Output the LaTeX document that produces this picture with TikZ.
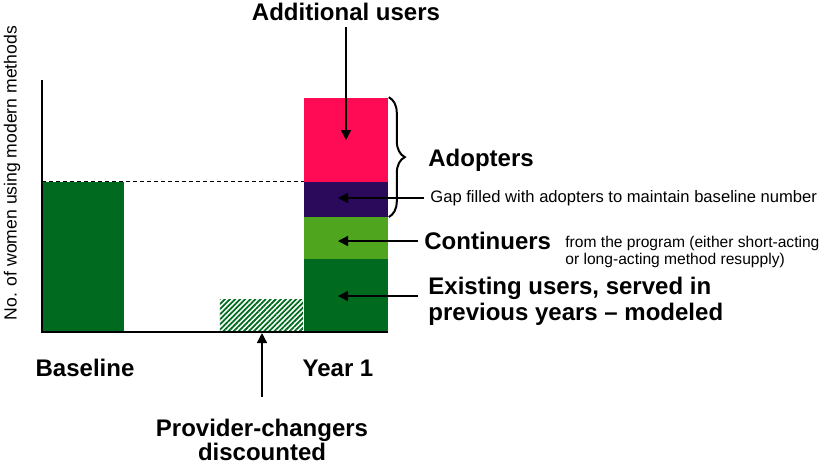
\documentclass[tikz,border=0pt]{standalone}
\usepackage{fontspec}
\setmainfont{Liberation Sans}
\usetikzlibrary{patterns.meta,decorations.pathreplacing,arrows.meta}
\definecolor{dkgreen}{RGB}{0,107,30}
\definecolor{ltgreen}{RGB}{80,165,30}
\definecolor{adopurple}{RGB}{43,10,92}
\definecolor{addpink}{RGB}{255,10,85}

\begin{document}
\begin{tikzpicture}[x=0.5pt,y=-0.5pt]
      \tikzstyle{every node}+=[inner sep=0pt]
      \tikzstyle{bar}=[draw=none, anchor=south west]
      \tikzstyle{big}=[font=\bfseries\fontsize{12}{13}\selectfont]
      \tikzstyle{small}=[font=\fontsize{8.3}{10}\selectfont]
      \tikzstyle{arr}=[black, line width=0.7pt, -{Triangle[length=5pt,width=5pt]}]
      \useasboundingbox (0,0) rectangle (834,463);
      % bars
      \node [bar, fill=dkgreen, minimum width=41pt, minimum height=75pt] (base) at (42,332) {};
      \node [bar, pattern={Lines[angle=45,distance=1.8pt,line width=0.9pt]}, pattern color=dkgreen, minimum width=41.5pt, minimum height=16pt] (changers) at (219,332) {};
      \node [bar, fill=dkgreen, minimum width=42pt, minimum height=36.5pt] (exist) at (304,332) {};
      \node [bar, fill=ltgreen, minimum width=42pt, minimum height=21pt] (cont) at (304,259) {};
      \node [bar, fill=adopurple, minimum width=42pt, minimum height=17.5pt] (gap) at (304,217) {};
      \node [bar, fill=addpink, minimum width=42pt, minimum height=42pt] (addl) at (304,182) {};
      % axes
      \draw [black, line width=0.6pt] (42,80) -- (42,332) -- (388,332);
      \draw [black, line width=0.4pt, dash pattern=on 2pt off 1.5pt] (base.north west) -- (gap.north west);
      \node [rotate=90, font=\fontsize{8.8}{10}\selectfont] (ylabel) at (12,173) {No. of women using modern methods};
      \node [big] (basetxt) at (85,368) {Baseline};
      \node [big] (yeartxt) at (338,368) {Year 1};
      % labels
      \node [big] (addtxt) at (346,12) {Additional users};
      \node [big, anchor=west] (adopt) at (428,160) {Adopters};
      \node [small, anchor=west] (gaptxt) at (430,198) {Gap filled with adopters to maintain baseline number};
      \node [big, anchor=west] (conttxt) at (424,241) {Continuers};
      \node [anchor=west, align=left, font=\fontsize{7.8}{8.6}\selectfont] (fromtxt) at (565,252) {from the program (either short-acting\\or long-acting method resupply)};
      \node [big, anchor=west, align=left] (existtxt) at (428,301) {Existing users, served in\\previous years -- modeled};
      \node [big, align=center, font=\bfseries\fontsize{12}{12}\selectfont] (provtxt) at (262,440) {Provider-changers\\discounted};
      % arrows
      \coordinate (addtip) at (346,140);
      \coordinate (gaptip) at (338,198);
      \coordinate (conttip) at (338,241);
      \coordinate (existtip) at (338,296);
      \coordinate (provtip) at (262,333);
      \draw [arr, shorten <=3pt] (addtxt.south) -- (addtip);
      \draw [arr, shorten <=3pt] (gaptxt.west) -- (gaptip);
      \draw [arr, shorten <=3pt] (conttxt.west) -- (conttip);
      \draw [arr, shorten <=5pt] (existtxt.west |- existtip) -- (existtip);
      \draw [arr, shorten <=11pt] (provtxt.north) -- (provtip);
      \draw [black, line width=1pt, decorate, decoration={brace, amplitude=8pt}] (addl.north east) -- (gap.south east);
\end{tikzpicture}
\end{document}
